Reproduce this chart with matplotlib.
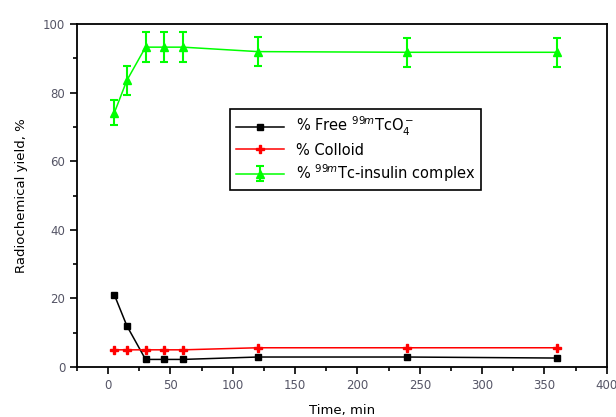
import numpy as np
import matplotlib
matplotlib.use('Agg')
import matplotlib.pyplot as plt
from matplotlib.ticker import MultipleLocator

# time points (min)
time_min = [5, 15, 30, 45, 60, 120, 240, 360]

free_tco4 = [21, 12, 2.2, 2.2, 2.2, 2.9, 2.9, 2.6]
colloid = [5.0, 5.0, 5.0, 5.0, 5.0, 5.6, 5.6, 5.6]
complex_yield = [74.2, 83.6, 93.3, 93.3, 93.3, 92.0, 91.8, 91.8]
complex_err = [3.7, 4.2, 4.4, 4.4, 4.4, 4.2, 4.3, 4.2]

labels = ["% Free $^{99m}$TcO$_4^-$", "% Colloid", "% $^{99m}$Tc-insulin complex"]

plt.rcParams['font.family'] = ['DejaVu Sans']

fig = plt.figure(figsize=(6.16, 4.17), dpi=100)
ax = fig.add_axes([0.125, 0.12, 0.86, 0.822])

ax.plot(time_min, free_tco4, color='black', marker='s', markersize=5, lw=1.1, label=labels[0])
ax.plot(time_min, colloid, color='red', marker='P', markersize=6, lw=1.1, label=labels[1])
ax.errorbar(time_min, complex_yield, yerr=complex_err, color='#00ff00', marker='^',
            markersize=6, lw=1.1, elinewidth=1.5, capsize=3, capthick=1.5, label=labels[2])

ax.set_xlim(-25, 400)
ax.set_ylim(0, 100)
ax.xaxis.set_major_locator(MultipleLocator(50))
ax.xaxis.set_minor_locator(MultipleLocator(25))
ax.yaxis.set_major_locator(MultipleLocator(20))
ax.yaxis.set_minor_locator(MultipleLocator(10))
ax.tick_params(which='both', direction='out', top=False, right=False, labelsize=8.5,
               labelcolor='#555566', width=1.2)
ax.tick_params(which='major', length=5)
ax.tick_params(which='minor', length=3)
for s in ax.spines.values():
    s.set_linewidth(1.3)

ax.set_xlabel("Time, min", fontsize=9.5, labelpad=9)
ax.set_ylabel("Radiochemical yield, %", fontsize=9.5, labelpad=11)

leg = ax.legend(loc='upper left', bbox_to_anchor=(0.289, 0.752), fontsize=10.5,
                frameon=True, fancybox=False, edgecolor='black', framealpha=1,
                handlelength=3.3, borderpad=0.4, labelspacing=0.3, borderaxespad=0)
leg.get_frame().set_linewidth(1.2)

plt.savefig("out.png", dpi=100)
